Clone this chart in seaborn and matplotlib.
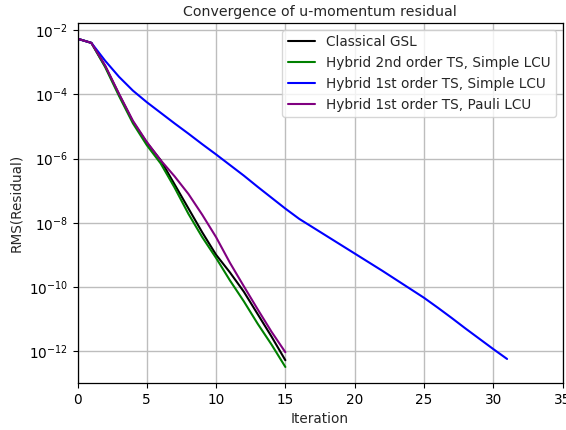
import numpy as np
import pandas as pd
import matplotlib
matplotlib.use("Agg")
import matplotlib.pyplot as plt
import seaborn as sns
from matplotlib.ticker import FixedLocator, NullLocator, LogFormatterMathtext

# Data (log10 of RMS residual)
iters_short = list(range(0, 16))
iters_long = list(range(0, 32))
classical_log = [-2.26, -2.39, -3.12, -4.0, -4.85, -5.5, -6.05, -6.8, -7.55, -8.3,
                 -9.0, -9.55, -10.15, -10.85, -11.55, -12.29]
hyb2_simple_log = [-2.26, -2.39, -3.15, -4.05, -4.9, -5.58, -6.15, -6.9, -7.72, -8.45,
                   -9.1, -9.8, -10.45, -11.15, -11.8, -12.5]
hyb1_simple_log = [-2.26, -2.39, -2.95, -3.45, -3.88, -4.24, -4.57, -4.9, -5.22, -5.55,
                   -5.87, -6.2, -6.53, -6.88, -7.22, -7.56, -7.88, -8.15, -8.42, -8.69,
                   -8.96, -9.23, -9.5, -9.78, -10.06, -10.34, -10.65, -10.97, -11.3,
                   -11.62, -11.94, -12.25]
hyb1_pauli_log = [-2.26, -2.39, -3.1, -3.98, -4.82, -5.48, -6.05, -6.55, -7.1, -7.75,
                  -8.45, -9.25, -9.98, -10.7, -11.4, -12.04]

labels = ["Classical GSL", "Hybrid 2nd order TS, Simple LCU",
          "Hybrid 1st order TS, Simple LCU", "Hybrid 1st order TS, Pauli LCU"]
colors = ["black", "green", "blue", "purple"]
xticks = [0, 5, 10, 15, 20, 25, 30, 35]
yticks = [1e-12, 1e-10, 1e-8, 1e-6, 1e-4, 1e-2]

frames = []
for lab, xs, ys in zip(labels,
                       [iters_short, iters_short, iters_long, iters_short],
                       [classical_log, hyb2_simple_log, hyb1_simple_log, hyb1_pauli_log]):
    frames.append(pd.DataFrame({"Iteration": xs,
                                "RMS": np.power(10.0, np.array(ys)),
                                "Series": lab}))
df = pd.concat(frames, ignore_index=True)

sns.set_style("ticks")
plt.rcParams["font.family"] = ["DejaVu Sans"]

fs = 9.8
fig = plt.figure(figsize=(5.66, 4.30), dpi=100)
ax = fig.add_axes([77.5 / 566, 47 / 430, 485 / 566, 360 / 430])

sns.lineplot(data=df, x="Iteration", y="RMS", hue="Series", hue_order=labels,
             palette=dict(zip(labels, colors)), linewidth=1.5, ax=ax,
             estimator=None, sort=False)

ax.set_yscale("log")
ax.set_xlim(0, 35)
ax.set_ylim(1e-13, 10 ** -1.77)
ax.xaxis.set_major_locator(FixedLocator(xticks))
ax.yaxis.set_major_locator(FixedLocator(yticks))
ax.yaxis.set_major_formatter(LogFormatterMathtext())
ax.yaxis.set_minor_locator(NullLocator())
ax.grid(True, color="#bdbdbd", linewidth=1.0)
ax.tick_params(labelsize=fs, length=3.5, width=0.8, colors="black")
for s in ax.spines.values():
    s.set_color("black")
    s.set_linewidth(0.9)

ax.set_xlabel("Iteration", fontsize=fs)
ax.set_ylabel("RMS(Residual)", fontsize=fs)
ax.set_title("Convergence of u-momentum residual", fontsize=10.2, pad=5)

leg = ax.legend(loc="upper right", fontsize=fs, frameon=True, fancybox=True,
                borderaxespad=0.5, handlelength=2.0)
leg.get_frame().set_edgecolor("#cccccc")

fig.savefig("out.png", dpi=100)
